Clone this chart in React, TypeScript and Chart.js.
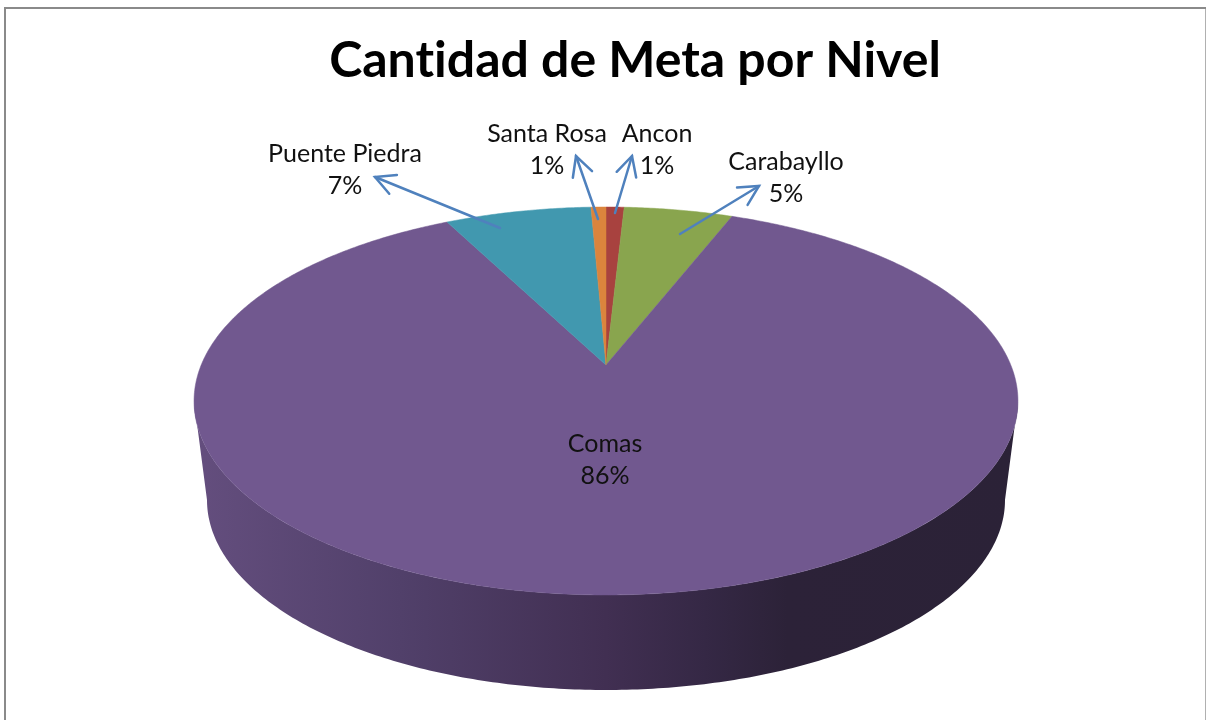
import React, { useEffect, useRef } from "react";
import { Chart, registerables } from "chart.js";

Chart.register(...registerables);

const categories = ["Ancon", "Carabayllo", "Comas", "Puente Piedra", "Santa Rosa"];
const shares = [0.85, 5.1, 86.49, 6.86, 0.7];
const sliceColors = ["#A8423F", "#89A54E", "#71588F", "#4198AF", "#DB843D"];
const chartTitle = "Cantidad de Meta por Nivel";

const FONT = "Lato, Carlito, Calibri, sans-serif";

// Perspective of the top face: (u, v) on the unit circle, v pointing to the viewer
const CX = 606, CY = 365, PK = 404.8, PA = 187.3, PC = -0.1856;
const project = (u: number, v: number): [number, number] => {
  const w = 1 + PC * v;
  return [CX + (PK * u) / w, CY + (PA * v) / w];
};
// Base of the cylinder
const BASE = { cx: 606, cy: 500, rx: 399, ry: 190 };

// Label placement: centre of the text and arrow (from, to)
const labelLayout: Record<string, { x: number; y: number; from?: [number, number]; to?: [number, number] }> = {
  "Puente Piedra": { x: 345, y: 154, from: [500, 228], to: [375, 177] },
  "Santa Rosa": { x: 547, y: 134, from: [598, 219], to: [576, 156] },
  Ancon: { x: 657, y: 134, from: [615, 213], to: [632, 156] },
  Carabayllo: { x: 786, y: 162, from: [680, 234], to: [759, 186] },
  Comas: { x: 605, y: 444 },
};

const pie3d = {
  id: "pie3d",
  beforeDraw(chart: any) {
    const { ctx } = chart;
    ctx.textRendering = "optimizeSpeed";
    ctx.save();
    ctx.fillStyle = "#ffffff";
    ctx.fillRect(0, 0, 1206, 720);
    ctx.fillStyle = "#8a8a8a";
    ctx.fillRect(4, 7, 1202, 2);
    ctx.fillRect(4, 7, 2, 713);
    ctx.fillStyle = "#b0b0b0";
    ctx.fillRect(1205, 9, 1, 711);
    ctx.restore();
  },
  beforeDatasetDraw(chart: any) {
    const { ctx } = chart;
    const meta = chart.getDatasetMeta(0);
    const TAU = Math.PI * 2;

    // Side wall
    const tilt = Math.asin(-PC);
    ctx.save();
    ctx.beginPath();
    const n = 240;
    for (let i = 0; i <= n; i++) {
      const a = tilt + ((Math.PI - 2 * tilt) * i) / n;
      const [x, y] = project(Math.cos(a), Math.sin(a));
      i === 0 ? ctx.moveTo(x, y) : ctx.lineTo(x, y);
    }
    for (let i = 0; i <= n; i++) {
      const a = Math.PI - (Math.PI * i) / n;
      ctx.lineTo(BASE.cx + BASE.rx * Math.cos(a), BASE.cy + BASE.ry * Math.sin(a));
    }
    ctx.closePath();
    const g = ctx.createLinearGradient(194, 0, 1018, 0);
    g.addColorStop(0, "#644e7e");
    g.addColorStop(0.25, "#51406a");
    g.addColorStop(0.5, "#412f52");
    g.addColorStop(0.62, "#352845");
    g.addColorStop(0.72, "#2c2238");
    g.addColorStop(1, "#2b2237");
    ctx.fillStyle = g;
    ctx.fill();

    // Top face, one projected path for each slice
    meta.data.forEach((arc: any) => {
      const { startAngle, endAngle } = arc.getProps(["startAngle", "endAngle"], true);
      const steps = Math.max(4, Math.ceil(((endAngle - startAngle) / TAU) * 720));
      ctx.beginPath();
      ctx.moveTo(CX, CY);
      for (let i = 0; i <= steps; i++) {
        const a = startAngle + ((endAngle - startAngle) * i) / steps;
        const [x, y] = project(Math.cos(a), Math.sin(a));
        ctx.lineTo(x, y);
      }
      ctx.closePath();
      ctx.fillStyle = arc.options.backgroundColor;
      ctx.fill();
      ctx.strokeStyle = arc.options.backgroundColor;
      ctx.lineWidth = 0.5;
      ctx.stroke();
    });
    ctx.restore();
    return false;
  },
  afterDatasetsDraw(chart: any) {
    const { ctx } = chart;
    const values: number[] = chart.data.datasets[0].data;
    const total = values.reduce((s, v) => s + v, 0);
    ctx.save();
    chart.data.labels.forEach((name: string, i: number) => {
      const l = labelLayout[name];
      if (l.from && l.to) {
        const [x0, y0] = l.from;
        const [x1, y1] = l.to;
        const ang = Math.atan2(y1 - y0, x1 - x0);
        ctx.strokeStyle = "#4F81BD";
        ctx.lineWidth = 2.5;
        ctx.lineCap = "round";
        ctx.lineJoin = "miter";
        ctx.beginPath();
        ctx.moveTo(x0, y0);
        ctx.lineTo(x1, y1);
        ctx.stroke();
        ctx.beginPath();
        ctx.moveTo(x1 - 22 * Math.cos(ang + 0.48), y1 - 22 * Math.sin(ang + 0.48));
        ctx.lineTo(x1, y1);
        ctx.lineTo(x1 - 22 * Math.cos(ang - 0.48), y1 - 22 * Math.sin(ang - 0.48));
        ctx.stroke();
      }
      ctx.fillStyle = "#111111";
      ctx.font = `25px ${FONT}`;
      ctx.textAlign = "center";
      ctx.textBaseline = "middle";
      ctx.fillText(name, l.x, l.y);
      ctx.fillText(`${Math.round((values[i] / total) * 100)}%`, l.x, l.y + 32);
    });
    ctx.restore();
  },
};

export default function App() {
  const ref = useRef<HTMLCanvasElement>(null);
  useEffect(() => {
    document.body.style.margin = "0";
    const chart = new Chart(ref.current!, {
      type: "pie",
      data: {
        labels: categories,
        datasets: [{ data: shares, backgroundColor: sliceColors, borderWidth: 0 }],
      },
      options: {
        responsive: false,
        animation: false,
        layout: { padding: { left: 64 } },
        plugins: {
          legend: { display: false },
          tooltip: { enabled: false },
          title: {
            display: true,
            text: chartTitle,
            color: "#000000",
            font: { family: FONT, size: 50, weight: "bold" },
            padding: { top: 31, bottom: 10 },
          },
        },
      },
      plugins: [pie3d],
    } as any);
    return () => chart.destroy();
  }, []);
  return <canvas ref={ref} width={1206} height={720} style={{ display: "block" }} />;
}
